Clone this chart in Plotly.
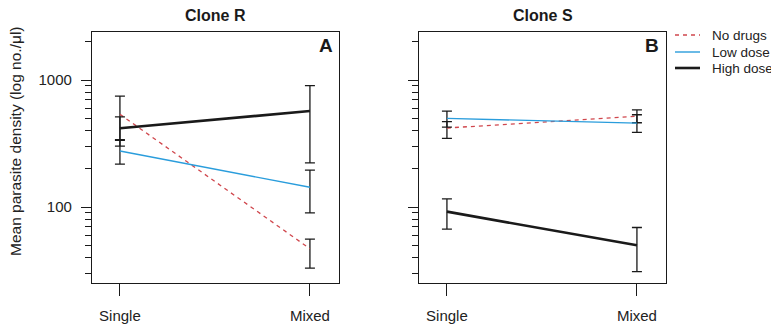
import plotly.graph_objects as go

# ---------------- data ----------------
conditions = ["Single", "Mixed"]
series_names = ["No drugs", "Low dose", "High dose"]

# Clone R (panel A)
r_nodrug_mean = [537, 47]
r_nodrug_upper = [748, 56]
r_nodrug_lower = [335, 33]
r_low_mean = [276, 143]
r_low_upper = [340, 195]
r_low_lower = [218, 90]
r_high_mean = [417, 570]
r_high_upper = [512, 902]
r_high_lower = [302, 223]

# Clone S (panel B)
s_nodrug_mean = [419, 518]
s_nodrug_upper = [470, 581]
s_nodrug_lower = [347, 461]
s_low_mean = [499, 458]
s_low_upper = [570, 533]
s_low_lower = [425, 387]
s_high_mean = [92, 50]
s_high_upper = [116, 69]
s_high_lower = [67, 31]

major_ticks = [100, 1000]
major_labels = ["100", "1000"]
minor_ticks = [30, 40, 50, 60, 70, 80, 90, 200, 300, 400, 500, 600, 700, 800, 900, 2000]

# ---------------- styles ----------------
OFF = 8                      # page body margin
W, H = 779 - OFF, 329 - OFF
RED = "#d0474d"
BLUE = "#2a9ddc"
BLACK = "#1a1a1a"
FONT = "Liberation Sans, Arial, Helvetica, sans-serif"

styles = {
    "No drugs": dict(color=RED, width=1.3, dash="4px,4px"),
    "Low dose": dict(color=BLUE, width=1.4, dash="solid"),
    "High dose": dict(color=BLACK, width=2.6, dash="solid"),
}

panels = [
    ("x", "y", {
        "No drugs": (r_nodrug_mean, r_nodrug_upper, r_nodrug_lower),
        "Low dose": (r_low_mean, r_low_upper, r_low_lower),
        "High dose": (r_high_mean, r_high_upper, r_high_lower),
    }),
    ("x2", "y2", {
        "No drugs": (s_nodrug_mean, s_nodrug_upper, s_nodrug_lower),
        "Low dose": (s_low_mean, s_low_upper, s_low_lower),
        "High dose": (s_high_mean, s_high_upper, s_high_lower),
    }),
]

fig = go.Figure()
for xa, ya, data in panels:
    for name in series_names:
        mean, up, lo = data[name]
        fig.add_trace(go.Scatter(
            x=conditions, y=mean, name=name, mode="lines",
            line=styles[name], xaxis=xa, yaxis=ya, showlegend=False,
            error_y=dict(type="data", symmetric=False,
                         array=[u - m for u, m in zip(up, mean)],
                         arrayminus=[m - l for m, l in zip(mean, lo)],
                         color=BLACK, thickness=1.3, width=5),
        ))


# page pixel -> paper helpers
def px_x(p):
    return (p - OFF) / W


def px_y(p):
    return 1 - (p - OFF) / H


box_top, box_bot = 32, 283
left_box = (92, 339)
right_box = (419, 666)
yrange = [1.402, 3.378]
xrange_ = [-0.147, 1.153]

axis_common = dict(showline=True, linecolor=BLACK, linewidth=1.2, mirror=True,
                   showgrid=False, zeroline=False,
                   tickfont=dict(family=FONT, size=15, color="#222"))

for i, box in enumerate([left_box, right_box]):
    xk = "xaxis" if i == 0 else "xaxis2"
    yk = "yaxis" if i == 0 else "yaxis2"
    fig.update_layout(**{
        xk: dict(axis_common, domain=[px_x(box[0]), px_x(box[1])],
                 range=xrange_, type="category", anchor="y" if i == 0 else "y2",
                 ticks="outside", ticklen=12, tickwidth=1.2, tickcolor=BLACK,
                 ticklabelstandoff=7),
        yk: dict(axis_common, domain=[px_y(box_bot), px_y(box_top)],
                 type="log", range=yrange, anchor="x" if i == 0 else "x2",
                 tickvals=major_ticks,
                 ticktext=major_labels if i == 0 else ["", ""],
                 ticks="outside", ticklen=10, tickwidth=1.2, tickcolor=BLACK,
                 ticklabelstandoff=6,
                 minor=dict(tickvals=minor_ticks, ticks="outside", ticklen=6,
                            tickwidth=1.1, tickcolor=BLACK, showgrid=False)),
    })

annotations = [
    dict(text="<b>Clone R</b>", x=px_x((left_box[0] + left_box[1]) / 2), y=px_y(15),
         font=dict(family=FONT, size=16, color=BLACK)),
    dict(text="<b>Clone S</b>", x=px_x((right_box[0] + right_box[1]) / 2), y=px_y(15),
         font=dict(family=FONT, size=16, color=BLACK)),
    dict(text="<b>A</b>", x=px_x(left_box[1] - 4), y=px_y(45), xanchor="right",
         font=dict(family=FONT, size=19, color=BLACK)),
    dict(text="<b>B</b>", x=px_x(right_box[1] - 5), y=px_y(45), xanchor="right",
         font=dict(family=FONT, size=19, color=BLACK)),
    dict(text="Mean parasite density (log no./\u03bcl)", x=px_x(16), y=px_y(141),
         textangle=-90, font=dict(family=FONT, size=15.5, color="#222")),
]

# manual legend (sample lines + labels)
legend_rows_y = [35, 52, 68]
shapes = []
for name, yy in zip(series_names, legend_rows_y):
    st = styles[name]
    shapes.append(dict(type="line", xref="paper", yref="paper",
                       x0=px_x(675), x1=px_x(700), y0=px_y(yy), y1=px_y(yy),
                       line=dict(color=st["color"], width=st["width"], dash=st["dash"])))
    annotations.append(dict(text=name, x=px_x(710), y=px_y(yy), xanchor="left",
                            font=dict(family=FONT, size=13.5, color="#222")))

for a in annotations:
    a.setdefault("xref", "paper")
    a.setdefault("yref", "paper")
    a.setdefault("showarrow", False)
    a.setdefault("xanchor", "center")
    a.setdefault("yanchor", "middle")

fig.update_layout(
    width=W, height=H,
    margin=dict(l=0, r=0, t=0, b=0),
    paper_bgcolor="white", plot_bgcolor="white",
    annotations=annotations,
    shapes=shapes,
    showlegend=False,
    font=dict(family=FONT),
)

fig.write_html("out.html")
